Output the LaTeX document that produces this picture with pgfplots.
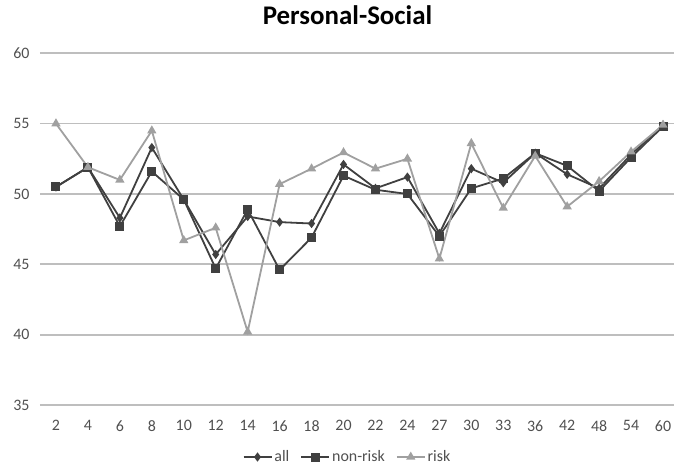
\documentclass[border=0pt]{standalone}
\usepackage{fontspec}
\setmainfont{Carlito}
\usepackage{pgfplots}
\pgfplotsset{compat=1.18}

\definecolor{darkline}{HTML}{404040}
\definecolor{riskline}{HTML}{A0A0A0}
\definecolor{gridgray}{HTML}{BEBEBE}
\definecolor{labelgray}{HTML}{505050}

\pgfplotstableread{
x all nonrisk risk
0  50.5 50.5 55.0
1  51.9 51.9 51.9
2  48.3 47.7 51.0
3  53.3 51.6 54.5
4  49.6 49.6 46.7
5  45.7 44.7 47.6
6  48.4 48.9 40.2
7  48.0 44.6 50.7
8  47.9 46.9 51.8
9  52.1 51.3 52.95
10 50.4 50.3 51.8
11 51.2 50.0 52.5
12 47.2 47.0 45.4
13 51.8 50.4 53.6
14 50.8 51.1 49.0
15 52.9 52.9 52.7
16 51.4 52.0 49.1
17 50.4 50.2 50.9
18 52.8 52.6 53.0
19 54.9 54.8 54.9
}\psdata

\begin{document}
\begin{tikzpicture}
\begin{axis}[
    scale only axis,
    width=634bp, height=351.7bp,
    xmin=-0.5, xmax=19.344,
    ymin=35, ymax=60,
    ytick={35,40,45,50,55,60},
    xtick=data,
    xticklabels={2,4,6,8,10,12,14,16,18,20,22,24,27,30,33,36,42,48,54,60},
    ymajorgrids,
    grid style={gridgray, line width=1.7bp},
    axis line style={draw=none},
    tick style={draw=none},
    major tick length=0pt,
    /pgf/number format/assume math mode=true,
    tick label style={font=\fontsize{16}{18}\selectfont, text=labelgray},
    yticklabel style={xshift=-7bp},
    xticklabel style={yshift=-12bp},
    title={Personal-Social},
    title style={font=\fontsize{27}{30}\selectfont\bfseries, at={(0.485,1)}, anchor=center, yshift=32bp},
    legend columns=-1,
    legend style={at={(0.485,0)}, anchor=center, yshift=-52bp, draw=none,
        font=\fontsize{16}{18}\selectfont, text=labelgray,
        /tikz/every even column/.append style={column sep=9bp}},
    legend image code/.code={
        \draw[mark repeat=2, mark phase=2] plot coordinates {(0bp,0bp) (14bp,0bp) (28bp,0bp)};},
]
\addplot[darkline, line width=1.8bp, mark=diamond*, mark size=3.2bp] table[x=x, y=all] {\psdata};
\addlegendentry{all}
\addplot[darkline, line width=1.8bp, mark=square*, mark size=3.6bp] table[x=x, y=nonrisk] {\psdata};
\addlegendentry{non-risk}
\addplot[riskline, line width=1.8bp, mark=triangle*, mark size=3.6bp] table[x=x, y=risk] {\psdata};
\addlegendentry{risk}
\end{axis}
\pgfresetboundingbox
\path ([shift={(-40bp,-69bp)}]current axis.south west) rectangle ([shift={(0bp,53.3bp)}]current axis.north east);
\end{tikzpicture}
\end{document}
